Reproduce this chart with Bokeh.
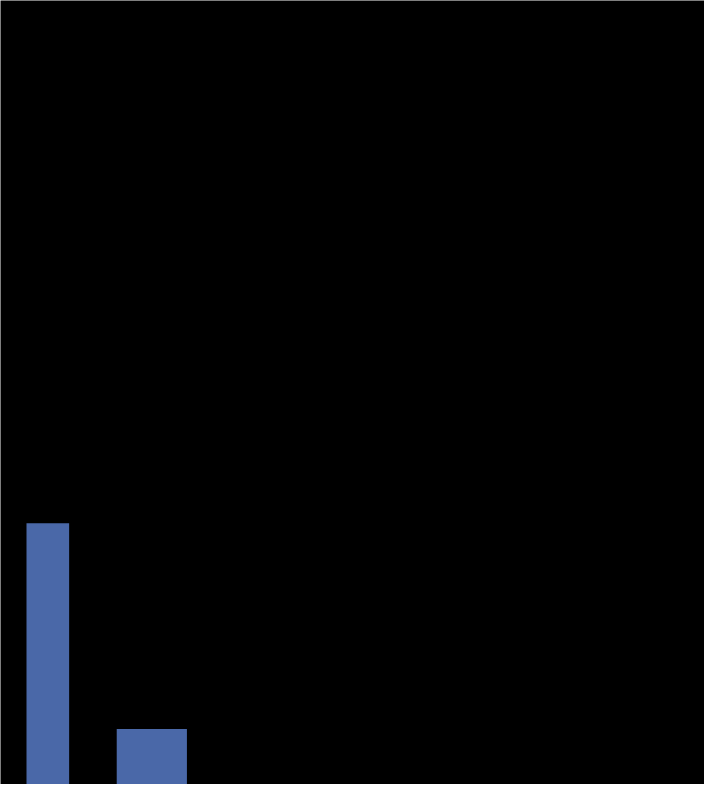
from bokeh.plotting import figure
from bokeh.models import ColumnDataSource, Range1d
from bokeh.embed import file_html
from bokeh.resources import INLINE

# Data
positions = [1, 2]
values = [100.0, 21.2]
bar_widths = [0.41, 0.675]

src = ColumnDataSource(dict(x=positions, top=values, w=bar_widths))

p = figure(width=704, height=784, output_backend="svg", toolbar_location=None,
           x_range=Range1d(0.545, 0.545 + 704 / 104), y_range=Range1d(0, 300),
           min_border=0, background_fill_color="black", border_fill_color="black")
p.vbar(x="x", top="top", width="w", bottom=0, source=src,
       fill_color="#4a68a8", line_color=None)
p.axis.visible = False
p.grid.visible = False
p.outline_line_color = None

open("out.html", "w").write(file_html(p, INLINE))
